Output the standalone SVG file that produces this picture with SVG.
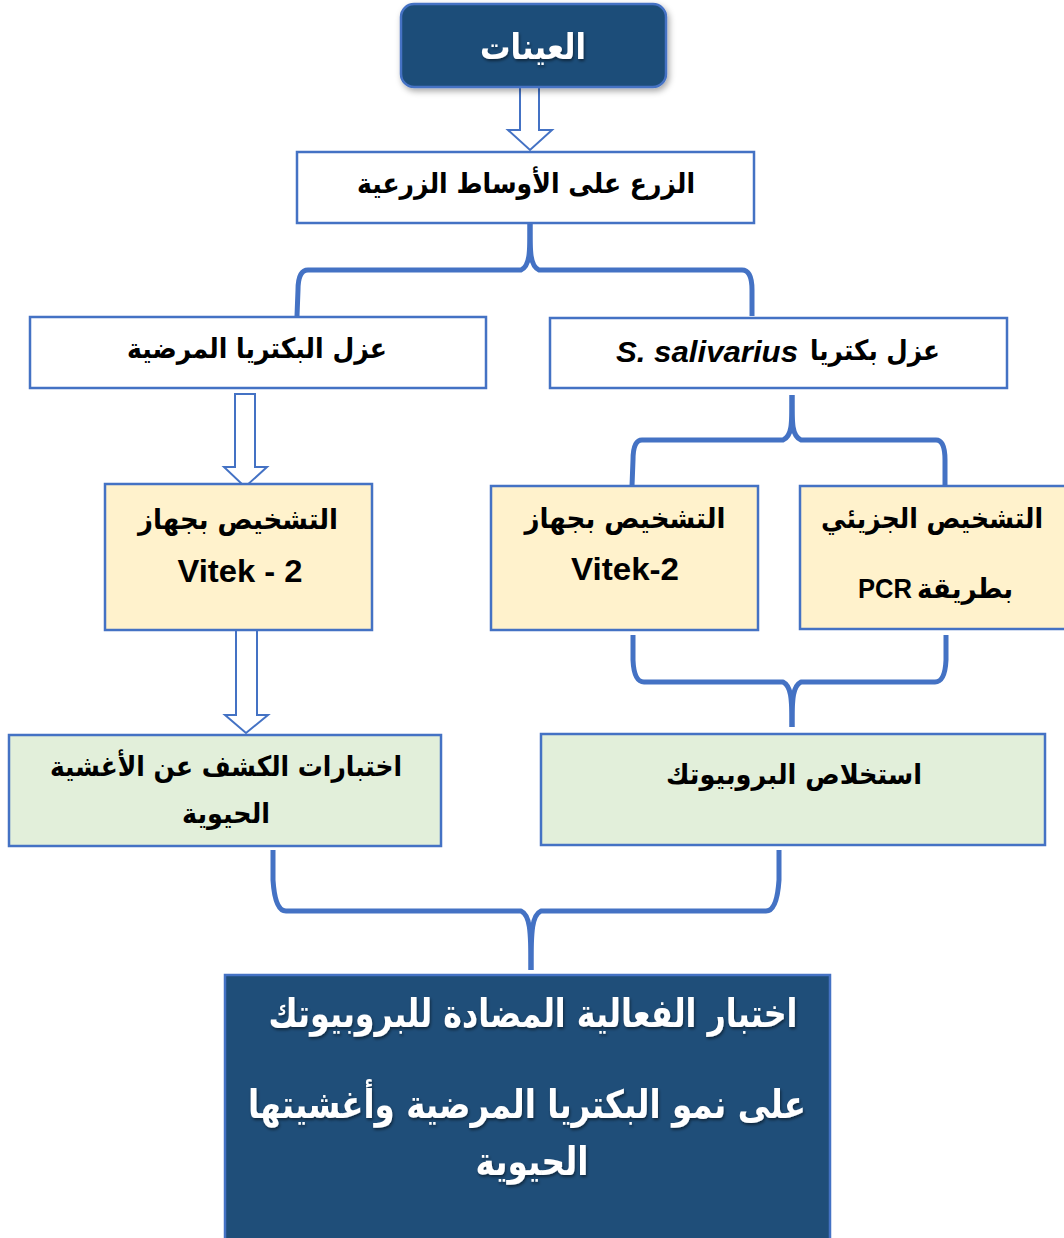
<svg xmlns="http://www.w3.org/2000/svg" width="1064" height="1238" viewBox="0 0 1064 1238">
<defs>
<style>
.box{stroke:#4472C4;stroke-width:2.5}
.w{fill:#FFFFFF}
.y{fill:#FFF2CC}
.g{fill:#E2EFDA}
.d{fill:#1F4E79}
.ar{font-family:"DejaVu Sans","Noto Sans",sans-serif;font-weight:bold;fill:#000;text-anchor:middle;font-size:28px}
.lat{font-family:"Liberation Sans",Arial,sans-serif;font-weight:bold;fill:#000;text-anchor:middle}
.wt{fill:#FFFFFF}
.brace{fill:none;stroke:#4472C4;stroke-width:5;stroke-linejoin:round;stroke-linecap:butt}
.harrow{fill:#FFFFFF;stroke:#4472C4;stroke-width:2;stroke-linejoin:miter}
</style>
<filter id="sh" x="-10%" y="-10%" width="130%" height="140%">
<feDropShadow dx="2" dy="3" stdDeviation="3" flood-color="#000" flood-opacity="0.35"/>
</filter>
<filter id="tsh" x="-5%" y="-20%" width="110%" height="150%">
<feDropShadow dx="1" dy="2" stdDeviation="1.5" flood-color="#000" flood-opacity="0.5"/>
</filter>
</defs>

<g id="connectors">
<path class="harrow" d="M520,87 L539,87 L539,130 L552,130 L530,150 L508,130 L520,130 Z"/>
<path class="brace" d="M530,224 C530,252 530,266 521,270 L308,270 Q298,270 298,290 L297,316"/>
<path class="brace" d="M530,224 C530,252 530,266 539,270 L742,270 Q752,270 752,290 L752,316"/>
<path class="harrow" d="M235,394 L255,394 L255,467 L267,467 L245,487 L224,467 L235,467 Z"/>
<path class="brace" d="M792,395 C792,425 792,436 783,440 L642,440 Q633,440 633,460 L632,486"/>
<path class="brace" d="M792,395 C792,425 792,436 801,440 L936,440 Q945,440 945,460 L945,486"/>
<path class="brace" d="M633,635 L633,660 Q634,682 644,682 L783,682 C791,686 792,697 792,727"/>
<path class="brace" d="M946,635 L946,660 Q945,682 935,682 L801,682 C793,686 792,697 792,727"/>
<path class="harrow" d="M236,630 L257,630 L257,715 L268,715 L246,733 L225,715 L236,715 Z"/>
<path class="brace" d="M273,850 L273,880 Q275,911 286,911 L521,911 C530,915 531,930 531,970"/>
<path class="brace" d="M779,850 L779,880 Q777,911 766,911 L541,911 C532,915 531,930 531,970"/>
</g>

<g id="samples">
<rect class="box d" x="401" y="4" width="265" height="83" rx="13" filter="url(#sh)"/>
<text class="ar wt" x="533" y="59" style="font-size:35px" textLength="106" lengthAdjust="spacingAndGlyphs" filter="url(#tsh)">العينات</text>
</g>

<g id="culture">
<rect class="box w" x="297" y="152" width="457" height="71"/>
<text class="ar" x="526" y="193" textLength="338" lengthAdjust="spacingAndGlyphs">الزرع على الأوساط الزرعية</text>
</g>

<g id="isolate-pathogens">
<rect class="box w" x="30" y="317" width="456" height="71"/>
<text class="ar" x="257" y="358" textLength="260" lengthAdjust="spacingAndGlyphs">عزل البكتريا المرضية</text>
</g>

<g id="isolate-salivarius">
<rect class="box w" x="550" y="318" width="457" height="70"/>
<text class="ar" x="875" y="360" textLength="130" lengthAdjust="spacingAndGlyphs">عزل بكتريا</text>
<text class="lat" x="707" y="362" font-size="29" font-style="italic" textLength="182" lengthAdjust="spacingAndGlyphs">S. salivarius</text>
</g>

<g id="vitek-left">
<rect class="box y" x="105" y="484" width="267" height="146"/>
<text class="ar" x="238" y="529" textLength="200" lengthAdjust="spacingAndGlyphs">التشخيص بجهاز</text>
<text class="lat" x="240" y="582" font-size="31" textLength="125" lengthAdjust="spacingAndGlyphs">Vitek - 2</text>
</g>

<g id="vitek-right">
<rect class="box y" x="491" y="486" width="267" height="144"/>
<text class="ar" x="625" y="528" textLength="201" lengthAdjust="spacingAndGlyphs">التشخيص بجهاز</text>
<text class="lat" x="625" y="580" font-size="31" textLength="108" lengthAdjust="spacingAndGlyphs">Vitek-2</text>
</g>

<g id="pcr">
<rect class="box y" x="800" y="486" width="267" height="143"/>
<text class="ar" x="932" y="528" textLength="222" lengthAdjust="spacingAndGlyphs">التشخيص الجزيئي</text>
<text class="ar" x="965" y="598" textLength="96" lengthAdjust="spacingAndGlyphs">بطريقة</text>
<text class="lat" x="885" y="598" font-size="27" textLength="54" lengthAdjust="spacingAndGlyphs">PCR</text>
</g>

<g id="biofilm-tests">
<rect class="box g" x="9" y="735" width="432" height="111"/>
<text class="ar" x="226" y="776" textLength="352" lengthAdjust="spacingAndGlyphs">اختبارات الكشف عن الأغشية</text>
<text class="ar" x="226" y="823" textLength="88" lengthAdjust="spacingAndGlyphs">الحيوية</text>
</g>

<g id="probiotic-extraction">
<rect class="box g" x="541" y="734" width="504" height="111"/>
<text class="ar" x="794" y="784" textLength="256" lengthAdjust="spacingAndGlyphs">استخلاص البروبيوتك</text>
</g>

<g id="activity-test">
<rect class="box d" x="225" y="975" width="605" height="290"/>
<g filter="url(#tsh)">
<text class="ar wt" x="533" y="1027" style="font-size:39px" textLength="529" lengthAdjust="spacingAndGlyphs">اختبار  الفعالية المضادة للبروبيوتك</text>
<text class="ar wt" x="527" y="1118" style="font-size:39px" textLength="558" lengthAdjust="spacingAndGlyphs">على نمو  البكتريا المرضية وأغشيتها</text>
<text class="ar wt" x="532" y="1175" style="font-size:39px" textLength="113" lengthAdjust="spacingAndGlyphs">الحيوية</text>
</g>
</g>
</svg>
